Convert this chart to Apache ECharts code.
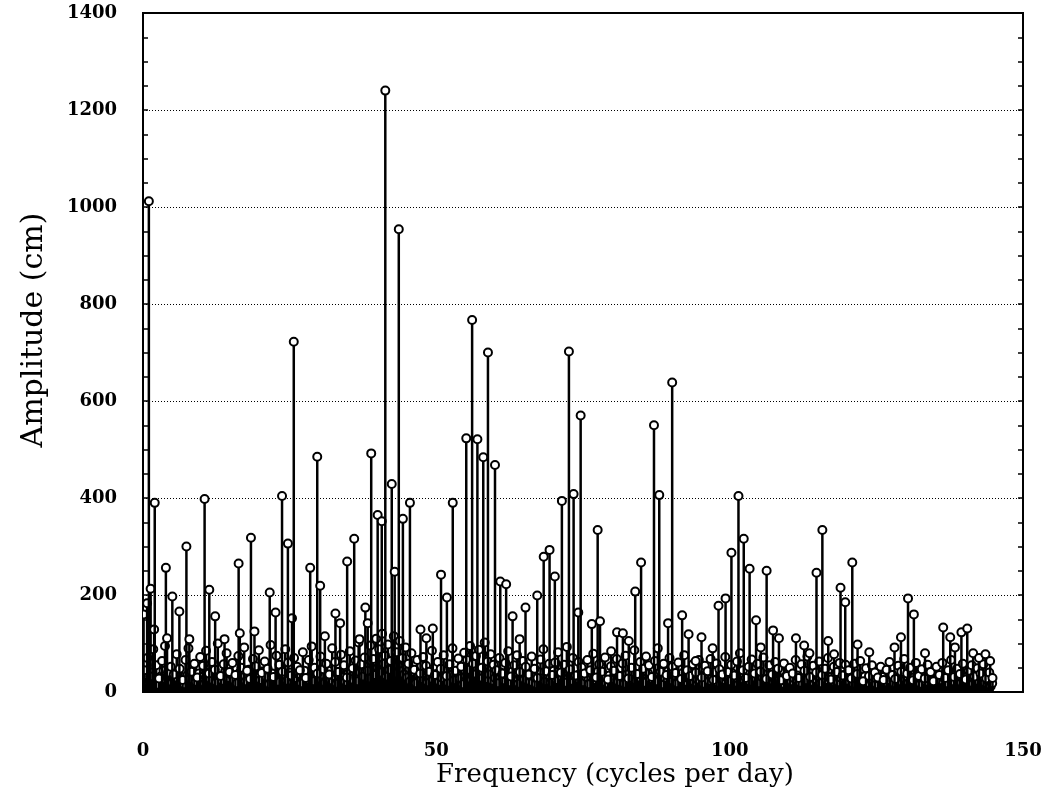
<!DOCTYPE html>
<html>
<head>
<meta charset="utf-8">
<script src="https://cdn.jsdelivr.net/npm/echarts@6/dist/echarts.min.js"></script>
<style>
html,body{margin:0;padding:0;background:#fff;}
#chart{width:1052px;height:807px;}
</style>
</head>
<body>
<div id="chart"></div>
<script>
// Major spectral lines: frequency (cycles per day) and amplitude (cm)
const peakFreq = [
  0.1,0.7,1.0,1.3,1.9,2.0,3.9,4.1,5.0,6.2,7.4,7.9,10.5,11.3,12.3,13.9,16.3,16.5,18.4,19.0,
  21.6,22.6,23.7,24.7,25.4,25.7,28.5,29.7,30.2,31.0,32.8,33.6,34.8,36.0,36.9,37.9,38.3,38.9,40.0,40.7,
  41.3,42.4,42.9,43.6,44.3,45.5,47.3,48.3,49.4,50.8,51.8,52.8,55.1,56.1,57.0,58.0,58.8,60.0,60.9,61.9,
  63.0,64.2,65.2,67.2,68.3,69.3,70.2,71.4,72.6,73.4,74.2,74.6,76.5,77.5,77.9,79.8,80.8,81.8,82.8,83.9,
  84.9,87.1,88.0,89.5,90.2,91.9,93.0,94.2,95.2,97.1,98.1,99.3,100.3,101.5,102.4,103.4,104.5,105.3,106.3,107.4,
  108.4,111.3,112.7,113.6,114.8,115.8,116.8,117.8,118.9,119.7,120.9,121.8,123.8,128.1,129.2,130.4,131.4,133.3,136.4,137.6,
  138.4,139.5,140.5,141.5,142.5,143.6,144.4,144.8
];
const peakAmp = [
  160,183,1012,213,129,390,256,111,197,166,300,109,398,211,156,109,265,121,318,125,
  205,164,404,306,152,722,256,485,219,115,162,142,269,316,109,174,142,492,365,352,
  1240,429,248,954,357,390,129,111,131,242,195,390,523,767,521,484,700,468,228,222,
  156,109,174,199,279,293,238,394,702,408,164,570,140,334,146,84,123,121,105,207,
  267,550,406,142,638,158,119,64,113,90,178,193,287,404,316,254,148,92,250,127,
  111,111,96,80,246,334,105,78,215,185,267,98,82,92,113,193,160,80,133,113,
  92,123,131,80,70,78,64,29
];
// Background continuum, upper layer: bins at 0.25, 0.75, ... cycles per day
const floorAStart = 0.25, floorAStep = 0.5;
const floorAAmp = [
  45,70,32,88,55,28,64,95,40,52,
  36,78,48,25,66,90,42,58,30,72,
  54,85,38,62,46,100,33,57,80,41,
  60,35,74,50,92,44,27,68,53,86,
  39,63,48,97,31,75,56,42,88,61,
  34,70,52,45,82,29,66,94,50,38,
  73,47,58,36,90,62,41,77,55,30,
  84,49,65,102,57,71,44,96,68,110,
  88,120,75,98,64,115,82,105,70,92,
  58,80,46,66,38,72,54,42,85,35,
  62,48,76,33,57,90,44,69,52,81,
  66,95,58,74,87,50,102,63,78,56,
  45,70,38,60,84,32,55,76,41,64,
  52,36,73,48,29,67,88,43,58,35,
  61,82,40,56,93,47,70,34,62,51,
  38,66,45,79,30,57,42,71,26,53,
  44,68,33,59,75,28,50,86,37,62,
  48,73,55,31,64,90,42,58,35,70,
  52,39,61,27,76,45,33,57,40,66,
  30,54,43,68,25,59,47,36,72,41,
  56,34,63,80,45,29,52,67,38,58,
  42,71,27,55,36,62,48,24,59,33,
  50,38,66,29,57,44,73,31,54,40,
  63,35,48,70,26,52,41,60,34,56,
  45,28,58,37,64,22,49,33,55,40,
  30,52,25,46,62,35,27,54,42,68,
  38,50,24,60,33,47,28,56,41,22,
  52,35,60,29,45,66,31,48,37,58,
  26,44,55,32,49,38,57,28,40,18
];
// Background continuum, lower layer: bins at 0.0, 0.5, ... cycles per day
const floorBStart = 0.0, floorBStep = 0.5;
const floorBAmp = [
  22,35,18,40,28,15,32,44,24,37,
  19,30,41,25,16,34,27,43,21,38,
  31,17,39,26,45,20,33,23,42,29,
  36,24,18,40,30,22,46,28,19,35,
  25,43,32,16,38,27,21,41,34,23,
  40,20,29,37,18,44,26,31,22,39,
  28,36,19,45,24,33,17,42,30,21,
  38,26,48,22,40,32,52,28,45,35,
  50,40,58,32,46,62,38,54,43,36,
  30,22,41,18,34,27,39,20,32,25,
  37,21,29,43,19,35,24,40,28,16,
  33,46,25,38,50,30,42,27,36,23,
  29,18,40,24,34,20,43,31,17,37,
  26,39,21,32,16,41,28,22,35,19,
  44,25,36,30,19,40,23,33,27,38,
  20,31,16,37,25,42,22,29,18,34,
  28,39,21,33,17,36,26,41,23,30,
  35,19,40,27,32,22,38,16,29,43,
  24,34,18,31,39,21,28,36,20,26,
  32,17,37,23,29,41,19,34,25,30,
  22,38,27,16,33,24,40,21,35,28,
  18,31,36,23,29,20,37,26,17,32,
  39,22,28,34,19,30,24,41,21,27,
  33,18,36,25,31,22,38,20,29,35,
  23,30,17,34,26,21,32,19,28,24,
  16,27,31,20,25,35,18,29,22,33,
  26,19,30,23,37,17,28,21,32,25,
  20,34,24,29,18,31,22,36,27,19,
  30,23,28,17,33,21,26,19,24,12
];
const xTicks = [0, 50, 100, 150];
const yTicks = [0, 200, 400, 600, 800, 1000, 1200, 1400];

const floorB = floorBAmp.map((a, i) => [floorBStart + i * floorBStep, a]);
const floorA = floorAAmp.map((a, i) => [floorAStart + i * floorAStep, a]);
const peaks = peakFreq.map((f, i) => [f, peakAmp[i]]);

function renderStem(params, api) {
  const x = api.value(0), y = api.value(1);
  const base = api.coord([x, 0]);
  const top = api.coord([x, y]);
  const r = 4;
  return {
    type: 'group',
    children: [
      { type: 'line', shape: { x1: base[0], y1: base[1], x2: top[0], y2: top[1] + r },
        style: { stroke: '#000', lineWidth: 2.5 } },
      { type: 'circle', shape: { cx: top[0], cy: top[1], r: r },
        style: { fill: '#fff', stroke: '#000', lineWidth: 2 } }
    ]
  };
}

const labelFont = "'DejaVu Serif', serif";

const chart = echarts.init(document.getElementById('chart'), null, { renderer: 'canvas' });
chart.setOption({
  animation: false,
  backgroundColor: '#fff',
  grid: { left: 143, right: 29, top: 13, bottom: 115, show: true, borderColor: '#000', borderWidth: 2, backgroundColor: 'transparent' },
  xAxis: {
    type: 'value', min: xTicks[0], max: xTicks[xTicks.length - 1], interval: 50,
    axisLine: { show: true, lineStyle: { color: '#000', width: 2 } },
    axisTick: { show: false },
    splitLine: { show: false },
    axisLabel: {
      margin: 50, color: '#000', fontFamily: labelFont, fontWeight: 'bold', fontSize: 18,
      formatter: function (v) { return String(v); }
    }
  },
  yAxis: [
    {
      type: 'value', min: yTicks[0], max: yTicks[yTicks.length - 1], interval: 200,
      axisLine: { show: true, lineStyle: { color: '#000', width: 2 } },
      axisTick: { show: true, inside: true, length: 5, lineStyle: { color: '#000', width: 1.5 } },
      minorTick: { show: true, splitNumber: 4, length: 5, lineStyle: { color: '#000', width: 1.5 } },
      splitLine: { show: true, lineStyle: { color: '#000', width: 1, type: [1, 2] } },
      axisLabel: {
        margin: 26, color: '#000', fontFamily: labelFont, fontWeight: 'bold', fontSize: 18,
        formatter: function (v) { return String(v); }
      }
    },
    {
      type: 'value', position: 'right', min: yTicks[0], max: yTicks[yTicks.length - 1], interval: 200,
      axisLine: { show: true, lineStyle: { color: '#000', width: 2 } },
      axisTick: { show: true, inside: true, length: 5, lineStyle: { color: '#000', width: 1.5 } },
      minorTick: { show: true, splitNumber: 4, length: 5, lineStyle: { color: '#000', width: 1.5 } },
      splitLine: { show: false },
      axisLabel: { show: false }
    }
  ],
  graphic: [
    { type: 'text', x: 615, y: 775,
      style: { text: 'Frequency (cycles per day)', font: "26px 'DejaVu Serif', serif", fill: '#000', textAlign: 'center', textVerticalAlign: 'middle' } },
    { type: 'text', x: 34, y: 330, rotation: Math.PI / 2,
      style: { text: 'Amplitude (cm)', font: "30px 'DejaVu Serif', serif", fill: '#000', textAlign: 'center', textVerticalAlign: 'middle' } }
  ],
  series: [
    { type: 'custom', name: 'floorB', data: floorB, renderItem: renderStem, xAxisIndex: 0, yAxisIndex: 0, clip: true },
    { type: 'custom', name: 'floorA', data: floorA, renderItem: renderStem, xAxisIndex: 0, yAxisIndex: 0, clip: true },
    { type: 'custom', name: 'peaks', data: peaks, renderItem: renderStem, xAxisIndex: 0, yAxisIndex: 0, clip: true }
  ]
});
</script>
</body>
</html>
